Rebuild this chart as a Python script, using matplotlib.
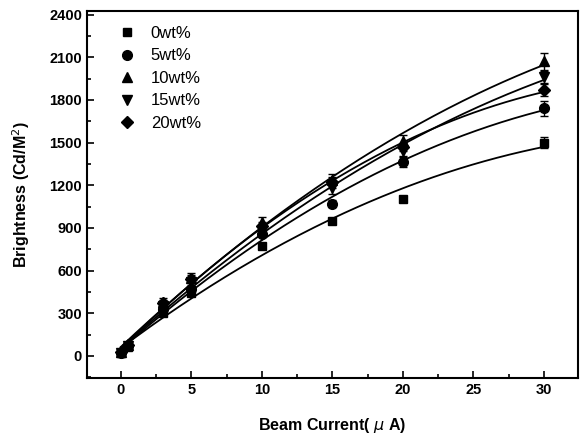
import numpy as np
import matplotlib
matplotlib.use("Agg")
import matplotlib.pyplot as plt
from matplotlib.ticker import MultipleLocator
from matplotlib.lines import Line2D

plt.rcParams['font.family'] = ['Liberation Sans', 'DejaVu Sans']

# beam current (uA)
current = [0, 0.5, 3, 5, 10, 15, 20, 30]

# brightness for each dopant concentration
b_0wt = [20, 60, 300, 440, 770, 950, 1100, 1500]
b_5wt = [20, 70, 330, 470, 860, 1070, 1360, 1740]
b_10wt = [25, 75, 380, 550, 940, 1240, 1510, 2070]
b_15wt = [20, 70, 350, 520, 880, 1180, 1440, 1960]
b_20wt = [25, 75, 370, 540, 910, 1220, 1470, 1870]

# error bars
e_0wt = [0, 0, 20, 20, 20, 20, 20, 40]
e_5wt = [0, 0, 20, 20, 20, 25, 35, 50]
e_10wt = [0, 0, 30, 30, 40, 40, 40, 60]
e_15wt = [0, 0, 25, 25, 30, 40, 35, 40]
e_20wt = [0, 0, 25, 30, 30, 40, 30, 40]

labels = ['0wt%', '5wt%', '10wt%', '15wt%', '20wt%']
markers = ['s', 'o', '^', 'v', 'D']
sizes = [6, 7, 7.5, 7.5, 6.5]

series = [b_0wt, b_5wt, b_10wt, b_15wt, b_20wt]
errors = [e_0wt, e_5wt, e_10wt, e_15wt, e_20wt]

fig = plt.figure(figsize=(5.83, 4.38), dpi=100)
ax = fig.add_axes([0.149, 0.137, 0.842, 0.838])

xfit = np.linspace(0, 30, 200)
handles = []
for y, err, lab, m, s in zip(series, errors, labels, markers, sizes):
    ax.errorbar(current, y, yerr=err, fmt=m, color='black', markersize=s,
                capsize=3, elinewidth=1, capthick=1)
    coef = np.polyfit(current, y, 2)
    ax.plot(xfit, np.polyval(coef, xfit), color='black', linewidth=1.3)
    handles.append(Line2D([], [], linestyle='none', marker=m, color='black',
                          markersize=s, label=lab))

ax.set_xlim(-2.4, 32.4)
ax.set_ylim(-155, 2425)
ax.xaxis.set_major_locator(MultipleLocator(5))
ax.xaxis.set_minor_locator(MultipleLocator(2.5))
ax.yaxis.set_major_locator(MultipleLocator(300))
ax.yaxis.set_minor_locator(MultipleLocator(150))
ax.tick_params(which='both', direction='in', top=False, right=False, width=1.2)
ax.tick_params(which='major', length=5, labelsize=10.5)
ax.tick_params(which='minor', length=3)
for lbl in ax.get_xticklabels() + ax.get_yticklabels():
    lbl.set_fontweight('bold')
for sp in ax.spines.values():
    sp.set_linewidth(1.5)

ax.set_xlabel('Beam Current( $\\mu$ A)', fontsize=11.5, fontweight='bold', labelpad=14)
ax.set_ylabel('Brightness (Cd/M$^2$)', fontsize=11.5, fontweight='bold', labelpad=12)

ax.legend(handles=handles, loc='upper left', frameon=False, fontsize=12,
          handletextpad=0.9, labelspacing=0.45, borderaxespad=0.5,
          handlelength=1.0, bbox_to_anchor=(0.035, 1.0))

fig.savefig('out.png', dpi=100)
